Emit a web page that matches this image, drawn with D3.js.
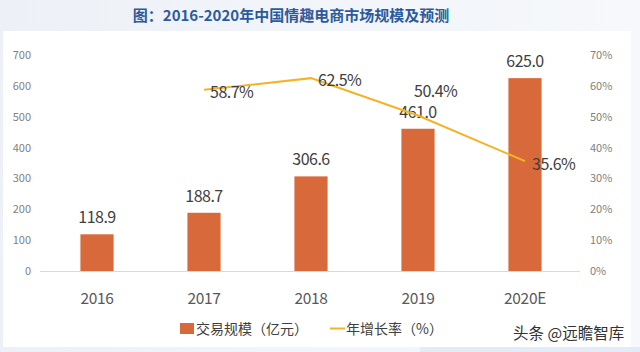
<!DOCTYPE html>
<html><head><meta charset="utf-8">
<script src="https://cdn.jsdelivr.net/npm/d3@7"></script>
<style>
html,body{margin:0;padding:0;background:#eef2f7;}
svg{display:block;}
text{font-family:"Noto Sans CJK SC","Noto Sans",sans-serif;}
</style></head>
<body>
<svg id="chart" width="640" height="352"></svg>
<script>
const categories = ["2016","2017","2018","2019","2020E"];
const scaleValues = [118.9, 188.7, 306.6, 461.0, 625.0];
const growthValues = [null, 58.7, 62.5, 50.4, 35.6];
const leftTicks = [0,100,200,300,400,500,600,700];
const rightTicks = [0,10,20,30,40,50,60,70];
const titleText = "图：2016-2020年中国情趣电商市场规模及预测";
const legendLabels = ["交易规模（亿元）","年增长率（%）"];
const watermark = "头条 @远瞻智库";

const svg = d3.select("#chart");
const barColor = "#D8693A", lineColor = "#F4B324", textColor = "#404040";

// background
const defs = svg.append("defs");
const g1 = defs.append("linearGradient").attr("id","bg").attr("x1",0).attr("x2",1).attr("y1",0).attr("y2",0);
g1.append("stop").attr("offset","0%").attr("stop-color","#edf1f7");
g1.append("stop").attr("offset","100%").attr("stop-color","#f6f8fb");
svg.append("rect").attr("width",640).attr("height",352).attr("fill","url(#bg)");
svg.append("rect").attr("x",3).attr("y",31).attr("width",628).attr("height",316).attr("fill","#ffffff");
svg.append("rect").attr("x",420).attr("y",347).attr("width",220).attr("height",5).attr("fill","#e2ebf6");

svg.append("text").attr("x",291).attr("y",21).attr("text-anchor","middle")
  .attr("font-size",15).attr("font-weight","bold").attr("fill","#2b5b9e").text(titleText);

const x = d3.scaleBand().domain(categories).range([43.5,578.5]).paddingInner(0.69).paddingOuter(0.345);
const y = d3.scaleLinear().domain([0,700]).range([271,55]);
const y2 = d3.scaleLinear().domain([0,70]).range([271,55]);

// axes
const axL = svg.append("g").attr("transform","translate(33,0)")
  .call(d3.axisLeft(y).tickValues(leftTicks).tickSize(0).tickPadding(2));
axL.select(".domain").remove();
axL.selectAll("text").attr("font-size",11).attr("fill","#7f7f7f").attr("font-family","'Noto Sans CJK SC',sans-serif");

const axR = svg.append("g").attr("transform","translate(588,0)")
  .call(d3.axisRight(y2).tickValues(rightTicks).tickSize(0).tickPadding(2).tickFormat(d=>d+"%"));
axR.select(".domain").remove();
axR.selectAll("text").attr("font-size",11).attr("fill","#7f7f7f").attr("font-family","'Noto Sans CJK SC',sans-serif");

// baseline
svg.append("line").attr("x1",40).attr("x2",580).attr("y1",y(0)+0.5).attr("y2",y(0)+0.5)
  .attr("stroke","#d9d9d9").attr("stroke-width",1);

// bars
svg.selectAll("rect.bar").data(scaleValues).enter().append("rect").attr("class","bar")
  .attr("x",(d,i)=>x(categories[i])).attr("width",x.bandwidth())
  .attr("y",d=>y(d)).attr("height",d=>y(0)-y(d)).attr("fill",barColor);

svg.selectAll("text.bl").data(scaleValues).enter().append("text").attr("class","bl")
  .attr("x",(d,i)=>x(categories[i])+x.bandwidth()/2).attr("y",d=>y(d)-11)
  .attr("text-anchor","middle").attr("font-size",16).attr("fill",textColor)
  .attr("letter-spacing",-0.5).text(d=>d.toFixed(1));

// category labels
svg.selectAll("text.cat").data(categories).enter().append("text").attr("class","cat")
  .attr("x",d=>x(d)+x.bandwidth()/2).attr("y",304).attr("text-anchor","middle")
  .attr("font-size",15.5).attr("fill","#595959").attr("letter-spacing",-0.3).text(d=>d);

// line
const pts = growthValues.map((v,i)=>({v,c:categories[i]})).filter(d=>d.v!=null);
const line = d3.line().x(d=>x(d.c)+x.bandwidth()/2).y(d=>y2(d.v));
svg.append("path").datum(pts).attr("d",line).attr("fill","none")
  .attr("stroke",lineColor).attr("stroke-width",2);

const labelOffsets = {"2017":[6,8],"2018":[7,8],"2019":[-4,-18],"2020E":[7,9]};
svg.selectAll("text.ll").data(pts).enter().append("text").attr("class","ll")
  .attr("x",d=>x(d.c)+x.bandwidth()/2+labelOffsets[d.c][0])
  .attr("y",d=>y2(d.v)+labelOffsets[d.c][1])
  .attr("font-size",16).attr("fill",textColor).attr("letter-spacing",-0.5)
  .text(d=>d.v.toFixed(1)+"%");

// legend
svg.append("rect").attr("x",180).attr("y",323).attr("width",14).attr("height",11).attr("fill",barColor);
svg.append("text").attr("x",196).attr("y",334).attr("font-size",14).attr("fill",textColor).text(legendLabels[0]);
svg.append("line").attr("x1",330).attr("x2",345).attr("y1",328.5).attr("y2",328.5).attr("stroke",lineColor).attr("stroke-width",2);
svg.append("text").attr("x",346).attr("y",334).attr("font-size",14).attr("fill",textColor).text(legendLabels[1]);

// watermark
svg.append("text").attr("x",513).attr("y",339).attr("font-size",15.5).attr("fill","#333333").text(watermark);
</script>
</body></html>
